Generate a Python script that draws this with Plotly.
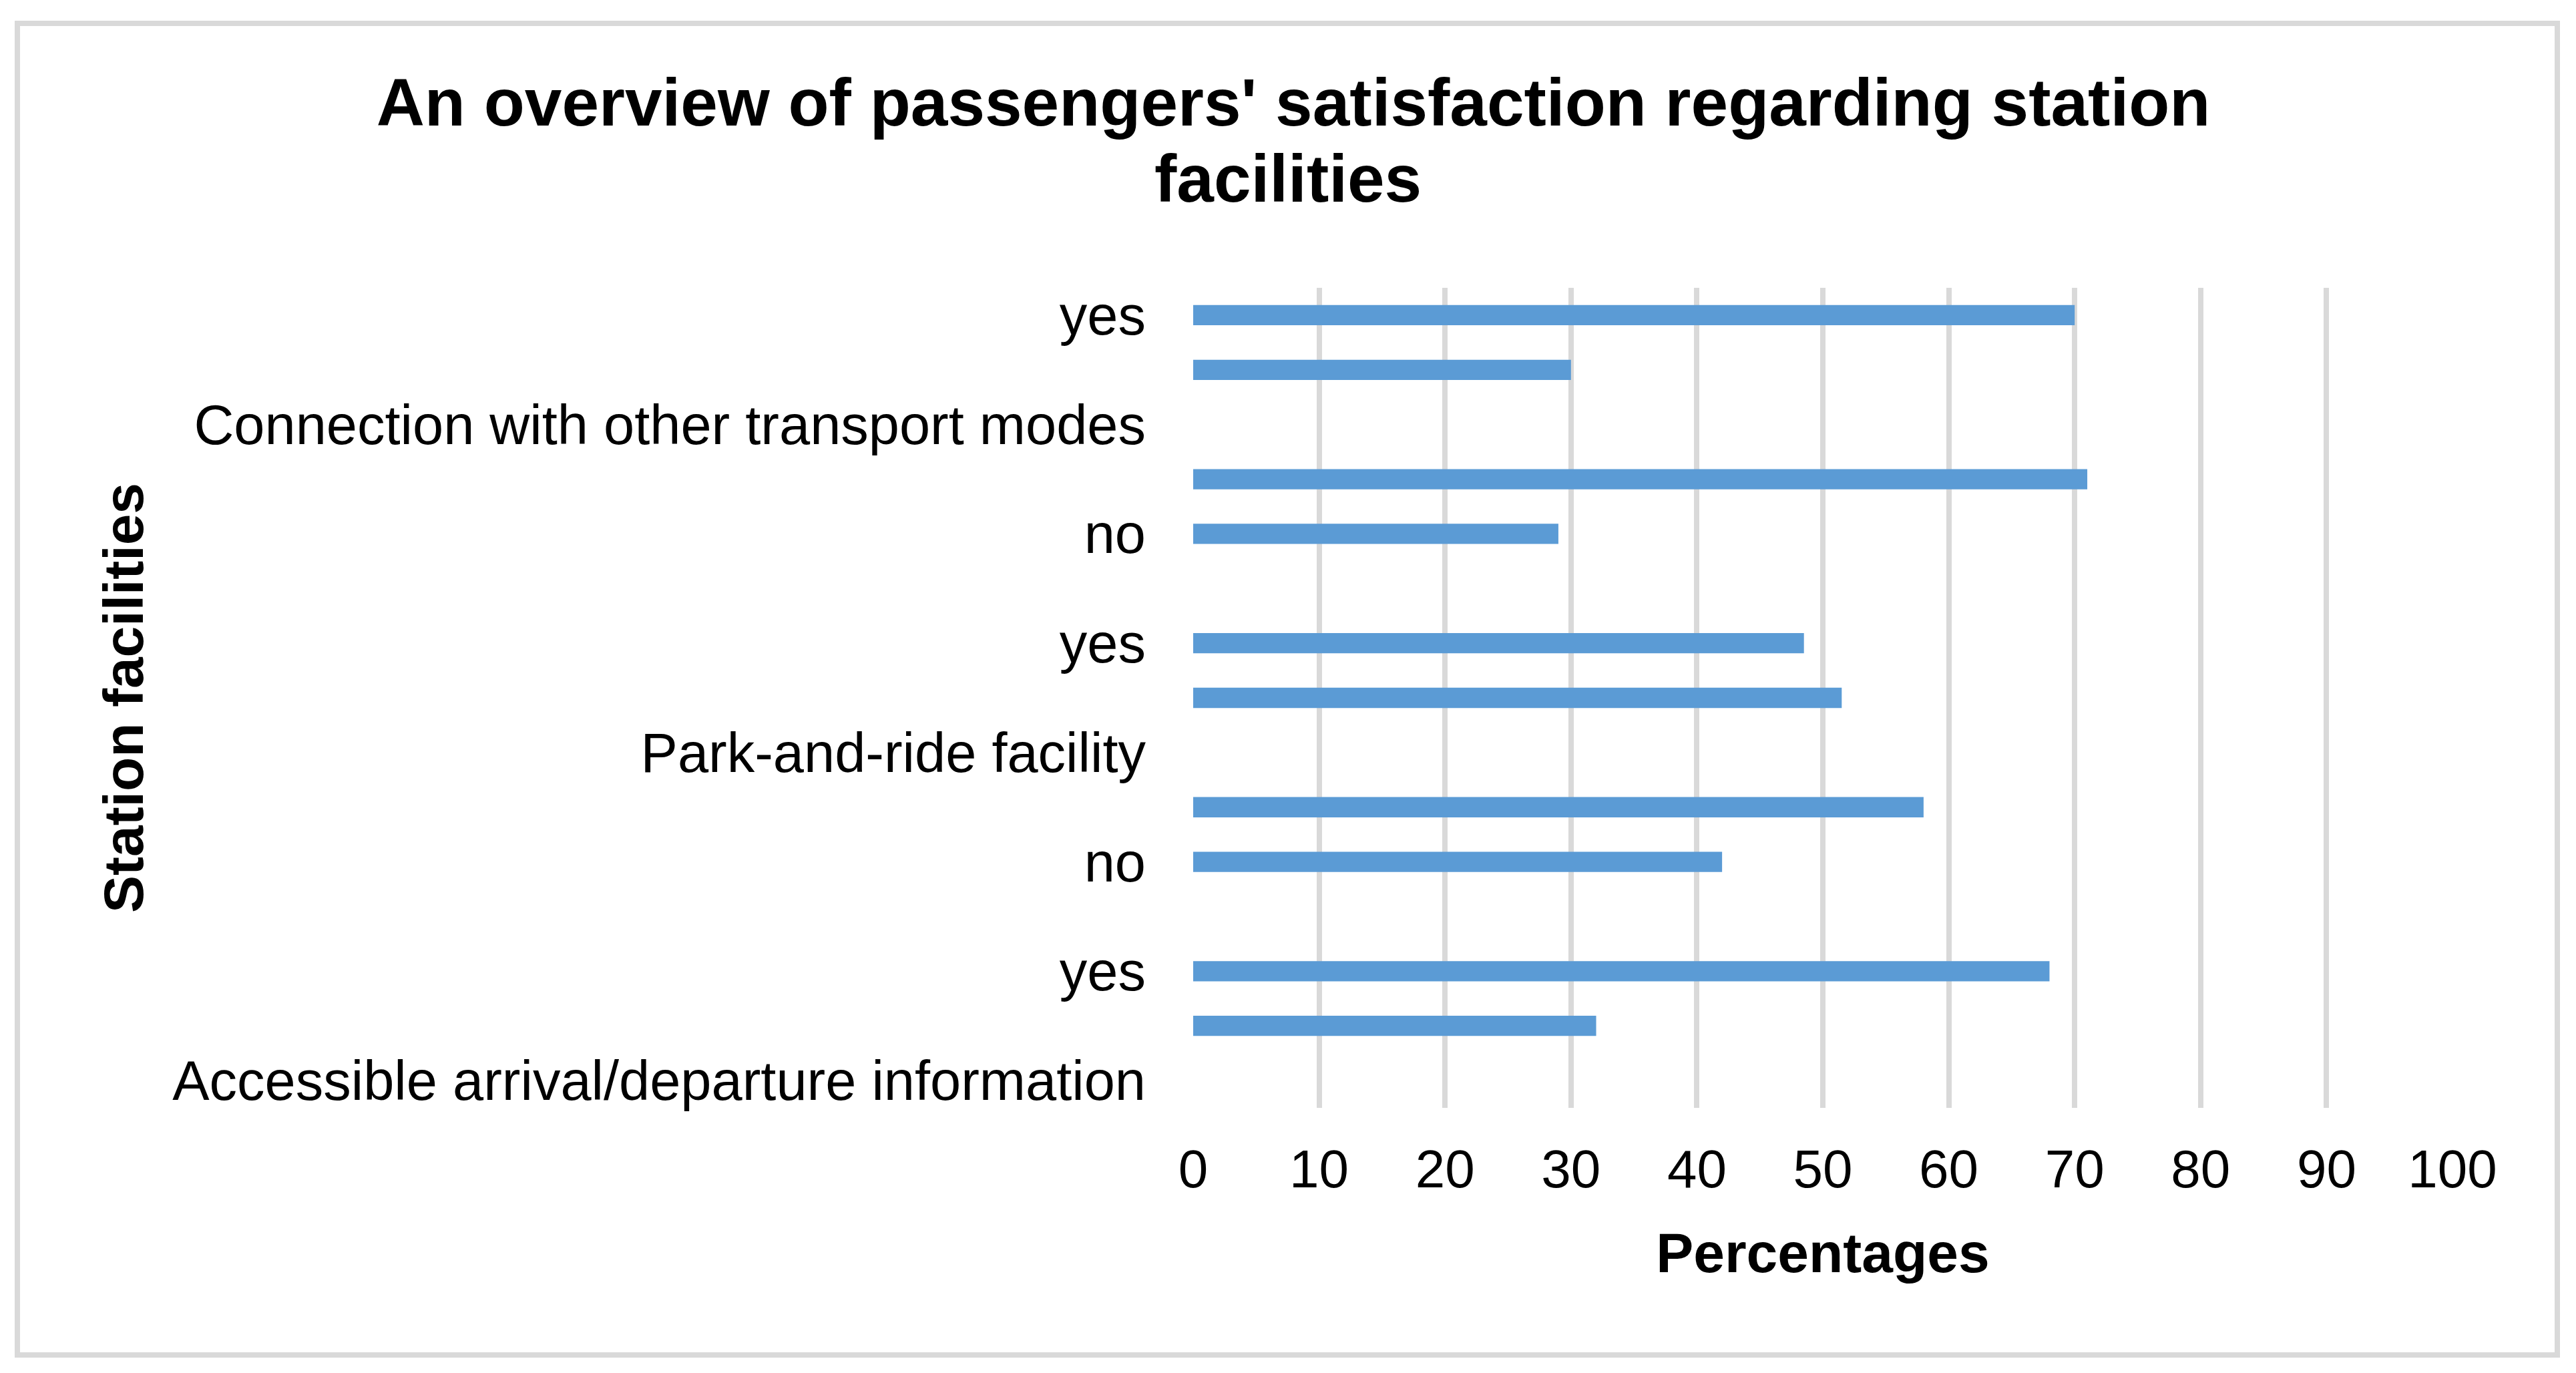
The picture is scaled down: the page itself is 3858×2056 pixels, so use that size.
import plotly.graph_objects as go

# Category-axis slots, top to bottom (empty strings are unlabeled slots)
slot_labels = [
    "yes", "", "Connection with other transport modes", "", "no", "",
    "yes", "", "Park-and-ride facility", "", "no", "",
    "yes", "", "Accessible arrival/departure information",
]
# Percentages for each slot (None = no bar in that slot)
percentages = [70, 30, None, 71, 29, None, 48.5, 51.5, None, 58, 42, None, 68, 32, None]

x_ticks = [0, 10, 20, 30, 40, 50, 60, 70, 80, 90, 100]

title_lines = ["An overview of passengers' satisfaction regarding station", "facilities"]
x_title = "Percentages"
y_title = "Station facilities"

W, H = 3858, 2056
OFF = 8  # page body margin
L, R, T, B = 1787 - OFF, 185 + OFF, 431 - OFF, 397 + OFF
plot_w = W - L - R
plot_h = H - T - B

slots = list(range(len(slot_labels)))
bar_y = [s for s, v in zip(slots, percentages) if v is not None]
bar_x = [v for v in percentages if v is not None]
tick_pos = [s for s, lab in zip(slots, slot_labels) if lab]
tick_txt = [lab for lab in slot_labels if lab]

FONT = "Liberation Sans, Arial, sans-serif"
GRID = "#D9D9D9"

fig = go.Figure(
    go.Bar(
        x=bar_x,
        y=bar_y,
        orientation="h",
        width=0.37,
        marker=dict(color="#5B9BD5", line=dict(width=0)),
        showlegend=False,
    )
)


def px_to_paper_x(px):
    return (px - OFF - L) / plot_w


def px_to_paper_y(py):
    return (H - B - (py - OFF)) / plot_h


fig.add_shape(
    type="rect",
    xref="paper", yref="paper",
    x0=px_to_paper_x(26), x1=px_to_paper_x(3830),
    y0=px_to_paper_y(2029), y1=px_to_paper_y(35),
    line=dict(color=GRID, width=8),
    fillcolor="rgba(0,0,0,0)",
    layer="below",
)

fig.update_layout(
    width=W,
    height=H,
    margin=dict(l=L, r=R, t=T, b=B, pad=0),
    paper_bgcolor="white",
    plot_bgcolor="white",
    font=dict(family=FONT, color="#000000", size=80),
    title=dict(
        text="<b>" + title_lines[0] + "</b>",
        x=0.5,
        xref="container",
        xanchor="center",
        y=1 - (153 - OFF) / H,
        yref="container",
        yanchor="middle",
        font=dict(family=FONT, size=100, color="#000000"),
    ),
    annotations=[
        dict(
            text="<b>" + title_lines[1] + "</b>",
            xref="paper", yref="paper",
            x=px_to_paper_x(W / 2), y=px_to_paper_y(267),
            xanchor="center", yanchor="middle",
            showarrow=False,
            font=dict(family=FONT, size=100, color="#000000"),
        )
    ],
    xaxis=dict(
        range=[0, 100],
        tickvals=x_ticks,
        ticktext=[str(t) for t in x_ticks],
        showgrid=True,
        gridcolor=GRID,
        gridwidth=8,
        zeroline=False,
        showline=False,
        ticks="",
        ticklabelstandoff=38,
        tickfont=dict(family=FONT, size=80, color="#000000"),
        title=dict(
            text="<b>" + x_title + "</b>",
            font=dict(family=FONT, size=84, color="#000000"),
            standoff=52,
        ),
        fixedrange=True,
    ),
    yaxis=dict(
        range=[len(slot_labels) - 0.5, -0.5],
        tickvals=tick_pos,
        ticktext=tick_txt,
        showgrid=False,
        zeroline=False,
        showline=False,
        ticks="",
        ticklabelstandoff=70,
        tickfont=dict(family=FONT, size=83, color="#000000"),
        title=dict(
            text="<b>" + y_title + "</b>",
            font=dict(family=FONT, size=84, color="#000000"),
            standoff=15,
        ),
        fixedrange=True,
    ),
)

fig.write_html("out.html")
